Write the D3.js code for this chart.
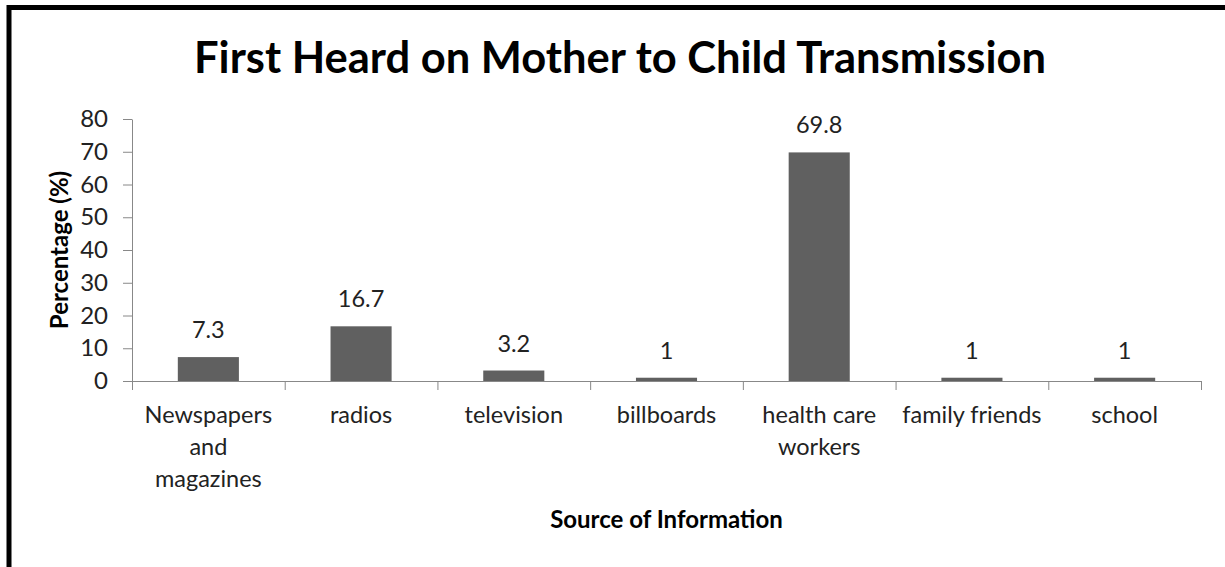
<!DOCTYPE html>
<html>
<head>
<meta charset="utf-8">
<script src="https://cdn.jsdelivr.net/npm/d3@7"></script>
<style>
  body { margin: 0; background: #fff; }
  svg { display: block; }
</style>
</head>
<body>
<script>
// chart data
var categories = [["Newspapers", "and", "magazines"], ["radios"], ["television"], ["billboards"],
                  ["health care", "workers"], ["family friends"], ["school"]];
var values = [7.3, 16.7, 3.2, 1, 69.8, 1, 1];
var yTicks = [0, 10, 20, 30, 40, 50, 60, 70, 80];

var W = 1225, H = 567;
var margin = {top: 119, left: 132, right: 24, bottom: 186};
var plotW = W - margin.left - margin.right,
    plotH = H - margin.top - margin.bottom;

var font = "Lato, 'Open Sans', sans-serif";

var svg = d3.select("body").append("svg")
    .attr("width", W)
    .attr("height", H);

// outer frame (runs off right/bottom edge like the source image)
svg.append("rect")
    .attr("x", 9).attr("y", 7.5)
    .attr("width", 1400).attr("height", 800)
    .attr("fill", "none")
    .attr("stroke", "#000")
    .attr("stroke-width", 5);

// title
svg.append("text")
    .attr("x", 620).attr("y", 73)
    .attr("text-anchor", "middle")
    .style("font-family", font)
    .style("font-weight", "bold")
    .style("font-size", "43.5px")
    .text("First Heard on Mother to Child Transmission");

var g = svg.append("g")
    .attr("transform", "translate(" + margin.left + "," + margin.top + ")");

var idx = d3.range(categories.length);
var x = d3.scaleBand()
    .domain(idx)
    .range([0, plotW])
    .paddingInner(0.6)
    .paddingOuter(0.3);
var y = d3.scaleLinear()
    .domain([0, 80])
    .range([plotH, 0]);

// y axis
var yAxis = g.append("g")
    .call(d3.axisLeft(y).tickValues(yTicks).tickSize(9).tickPadding(15));
yAxis.select(".domain").attr("stroke", "#888").attr("d", "M0.5," + plotH + "V0.5");
yAxis.selectAll(".tick line").attr("stroke", "#888");
yAxis.selectAll(".tick text")
    .style("font-family", font)
    .style("font-size", "24px")
    .attr("fill", "#222");

// x axis: ticks on category boundaries
var xb = d3.scaleLinear().domain([0, categories.length]).range([0, plotW]);
var xAxis = g.append("g")
    .attr("transform", "translate(0," + plotH + ")")
    .call(d3.axisBottom(xb).tickValues(d3.range(categories.length + 1)).tickSize(9).tickFormat(""));
xAxis.select(".domain").attr("stroke", "#888").attr("d", "M0," + 0.5 + "H" + plotW);
xAxis.selectAll(".tick line").attr("stroke", "#888");

// bars
g.selectAll(".bar")
    .data(values)
  .enter().append("rect")
    .attr("class", "bar")
    .attr("x", function(d, i) { return x(i); })
    .attr("width", x.bandwidth())
    .attr("y", function(d) { return y(d); })
    .attr("height", function(d) { return plotH - y(d); })
    .attr("fill", "#606060");

// value labels
g.selectAll(".val")
    .data(values)
  .enter().append("text")
    .attr("class", "val")
    .attr("x", function(d, i) { return x(i) + x.bandwidth() / 2; })
    .attr("y", function(d) { return y(d) - 19; })
    .attr("text-anchor", "middle")
    .style("font-family", font)
    .style("font-size", "23.5px")
    .attr("fill", "#222")
    .text(function(d) { return d; });

// category labels
var cat = g.selectAll(".cat")
    .data(categories)
  .enter().append("text")
    .attr("class", "cat")
    .attr("text-anchor", "middle")
    .style("font-family", font)
    .style("font-size", "23.5px")
    .attr("fill", "#222")
    .attr("transform", function(d, i) {
      return "translate(" + (x(i) + x.bandwidth() / 2) + "," + (plotH + 42) + ")";
    });
cat.selectAll("tspan")
    .data(function(d) { return d; })
  .enter().append("tspan")
    .attr("x", 0)
    .attr("y", function(d, j) { return j * 32; })
    .text(function(d) { return d; });

// axis titles
svg.append("text")
    .attr("x", margin.left + plotW / 2)
    .attr("y", 528)
    .attr("text-anchor", "middle")
    .style("font-family", font)
    .style("font-weight", "bold")
    .style("font-size", "24px")
    .text("Source of Information");

svg.append("text")
    .attr("transform", "translate(68," + (margin.top + plotH / 2) + ") rotate(-90)")
    .attr("text-anchor", "middle")
    .style("font-family", font)
    .style("font-weight", "bold")
    .style("font-size", "24px")
    .text("Percentage (%)");
</script>
</body>
</html>
